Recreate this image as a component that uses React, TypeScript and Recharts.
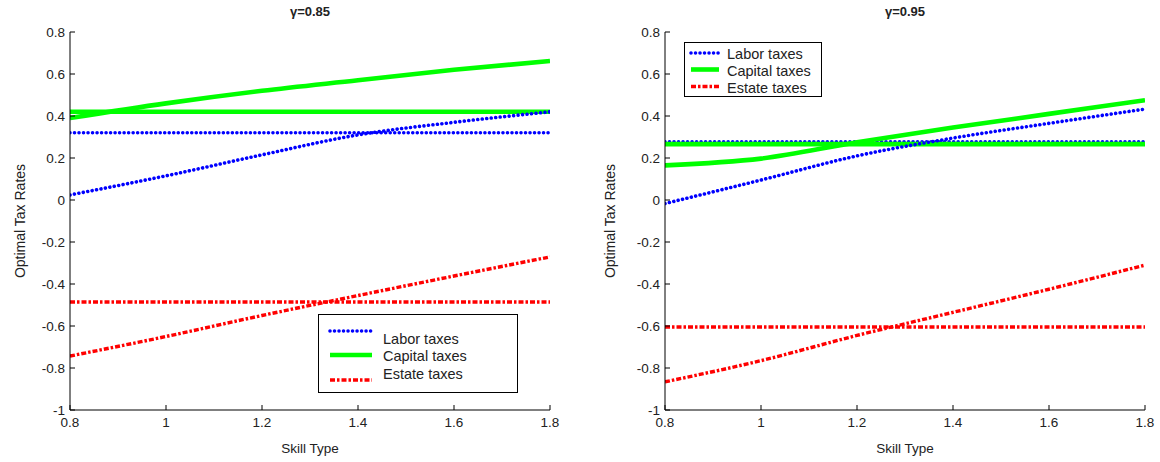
import React from 'react';
import { LineChart, Line, XAxis, YAxis, Legend } from 'recharts';

const FONT = '"Liberation Sans", Arial, Helvetica, sans-serif';

// Categories (skill type grid)
const skill = [0.8, 1.0, 1.2, 1.4, 1.6, 1.8];
const xTicks = [0.8, 1, 1.2, 1.4, 1.6, 1.8];
const yTicks = [-1, -0.8, -0.6, -0.4, -0.2, 0, 0.2, 0.4, 0.6, 0.8];

// gamma = 0.85
const labor085 = [0.024, 0.115, 0.215, 0.31, 0.37, 0.42];
const laborFlat085 = [0.32, 0.32, 0.32, 0.32, 0.32, 0.32];
const capital085 = [0.39, 0.46, 0.52, 0.57, 0.62, 0.662];
const capitalFlat085 = [0.42, 0.42, 0.42, 0.42, 0.42, 0.42];
const estate085 = [-0.743, -0.65, -0.55, -0.455, -0.362, -0.271];
const estateFlat085 = [-0.486, -0.486, -0.486, -0.486, -0.486, -0.486];

// gamma = 0.95
const labor095 = [-0.017, 0.095, 0.21, 0.295, 0.365, 0.433];
const laborFlat095 = [0.277, 0.277, 0.277, 0.277, 0.277, 0.277];
const capital095 = [0.165, 0.197, 0.275, 0.345, 0.41, 0.475];
const capitalFlat095 = [0.266, 0.266, 0.266, 0.266, 0.266, 0.266];
const estate095 = [-0.866, -0.765, -0.645, -0.535, -0.425, -0.31];
const estateFlat095 = [-0.605, -0.605, -0.605, -0.605, -0.605, -0.605];

const seriesNames = ['Labor taxes', 'Capital taxes', 'Estate taxes'];
const titles = ['γ=0.85', 'γ=0.95'];

type Style = { color: string; width: number; dash?: string; cap: 'round' | 'butt' };
const styles: Style[] = [
  { color: '#0000ff', width: 3.6, dash: '0.01 4.5', cap: 'round' },
  { color: '#00ff00', width: 4.6, cap: 'butt' },
  { color: '#ff0000', width: 3.4, dash: '5 2 2.5 2', cap: 'butt' },
];

function buildRows(
  lab: number[], labF: number[], cap: number[], capF: number[], est: number[], estF: number[]
) {
  return skill.map((s, i) => ({
    skill: s,
    labor: lab[i],
    laborFlat: labF[i],
    capital: cap[i],
    capitalFlat: capF[i],
    estate: est[i],
    estateFlat: estF[i],
  }));
}

const rows085 = buildRows(labor085, laborFlat085, capital085, capitalFlat085, estate085, estateFlat085);
const rows095 = buildRows(labor095, laborFlat095, capital095, capitalFlat095, estate095, estateFlat095);

type LegendCfg = {
  left: number; top: number; w: number; h: number;
  lx1: number; lx2: number; ly: number[]; tx: number; ty: number[];
};

function LegendBox({ cfg }: { cfg: LegendCfg }) {
  return (
    <div
      style={{
        position: 'relative', width: cfg.w, height: cfg.h, border: '1px solid #000',
        boxSizing: 'border-box', background: '#fff', fontFamily: FONT, fontSize: 14.5, color: '#222',
      }}
    >
      <svg width={cfg.w} height={cfg.h} style={{ position: 'absolute', left: -1, top: -1 }}>
        {styles.map((st, i) => (
          <line
            key={i}
            x1={cfg.lx1}
            x2={cfg.lx2}
            y1={cfg.ly[i]}
            y2={cfg.ly[i]}
            stroke={st.color}
            strokeWidth={st.width}
            strokeDasharray={st.dash}
            strokeLinecap={st.cap}
          />
        ))}
      </svg>
      {seriesNames.map((n, i) => (
        <div
          key={n}
          style={{
            position: 'absolute', left: cfg.tx - 1, top: cfg.ty[i] - 10, height: 20,
            lineHeight: '20px', whiteSpace: 'nowrap',
          }}
        >
          {n}
        </div>
      ))}
    </div>
  );
}

function Panel({
  title, rows, legend, left, width, yAxisW,
}: {
  title: string; rows: any[]; legend: LegendCfg; left: number; width: number; yAxisW: number;
}) {
  const plotW = 480;
  const rightM = width - yAxisW - plotW;
  const keys = ['labor', 'capital', 'estate'];
  return (
    <div style={{ position: 'absolute', left, top: 0, width, height: 462 }}>
      <div
        style={{
          position: 'absolute', left: yAxisW, top: 4, width: plotW, textAlign: 'center',
          fontSize: 13, fontWeight: 'bold', color: '#222', lineHeight: '16px', fontFamily: FONT,
        }}
      >
        {title}
      </div>
      <LineChart
        width={width}
        height={462}
        data={rows}
        margin={{ top: 32, right: rightM, bottom: 0, left: 0 }}
      >
        <XAxis
          dataKey="skill"
          type="number"
          domain={[0.8, 1.8]}
          ticks={xTicks}
          allowDataOverflow
          height={52}
          tickSize={-5}
          tickMargin={12}
          tick={{ fontSize: 13.5, fill: '#222' }}
          stroke="#000"
          tickFormatter={(v: number) => String(v)}
          label={{ value: 'Skill Type', position: 'insideBottom', offset: 9, fontSize: 13.5, fill: '#222' }}
        />
        <XAxis
          xAxisId="top"
          orientation="top"
          type="number"
          domain={[0.8, 1.8]}
          ticks={xTicks}
          allowDataOverflow
          height={0}
          tickSize={-5}
          tick={false}
          stroke="#000"
        />
        <YAxis
          type="number"
          domain={[-1, 0.8]}
          ticks={yTicks}
          allowDataOverflow
          width={yAxisW}
          tickSize={-5}
          tickMargin={10}
          tick={{ fontSize: 13.5, fill: '#222' }}
          stroke="#000"
          tickFormatter={(v: number) => String(v)}
          label={{
            value: 'Optimal Tax Rates', angle: -90, position: 'insideLeft', offset: 20,
            fontSize: 14, fill: '#222', style: { textAnchor: 'middle' },
          }}
        />
        <YAxis
          yAxisId="right"
          orientation="right"
          type="number"
          domain={[-1, 0.8]}
          ticks={yTicks}
          allowDataOverflow
          width={0}
          tickSize={-5}
          tick={false}
          stroke="#000"
        />
        {keys.map((k, i) => (
          <Line
            key={k + 'Flat'}
            dataKey={k + 'Flat'}
            name={seriesNames[i]}
            legendType="none"
            type="linear"
            stroke={styles[i].color}
            strokeWidth={styles[i].width}
            strokeDasharray={styles[i].dash}
            strokeLinecap={styles[i].cap}
            dot={false}
            activeDot={false}
            isAnimationActive={false}
          />
        ))}
        {keys.map((k, i) => (
          <Line
            key={k}
            dataKey={k}
            name={seriesNames[i]}
            type="monotone"
            stroke={styles[i].color}
            strokeWidth={styles[i].width}
            strokeDasharray={styles[i].dash}
            strokeLinecap={styles[i].cap}
            dot={false}
            activeDot={false}
            isAnimationActive={false}
          />
        ))}
        <Legend
          layout="horizontal"
          verticalAlign="middle"
          align="center"
          width={legend.w}
          wrapperStyle={{ left: legend.left, top: legend.top, width: legend.w, height: legend.h }}
          content={() => <LegendBox cfg={legend} />}
        />
      </LineChart>
    </div>
  );
}

const legendLeft: LegendCfg = {
  left: 318, top: 314, w: 200, h: 79,
  lx1: 12, lx2: 54, ly: [17, 41, 66], tx: 65, ty: [24, 41, 59],
};
const legendRight: LegendCfg = {
  left: 94, top: 42, w: 138, h: 55,
  lx1: 7, lx2: 35, ly: [11, 27.5, 44.5], tx: 43, ty: [11, 27.5, 44.5],
};

export default function App() {
  return (
    <div
      style={{
        position: 'absolute', left: 0, top: 0, width: 1160, height: 462,
        background: '#fff', fontFamily: FONT,
      }}
    >
      <Panel title={titles[0]} rows={rows085} legend={legendLeft} left={0} width={580} yAxisW={70} />
      <Panel title={titles[1]} rows={rows095} legend={legendRight} left={590} width={570} yAxisW={75} />
    </div>
  );
}
